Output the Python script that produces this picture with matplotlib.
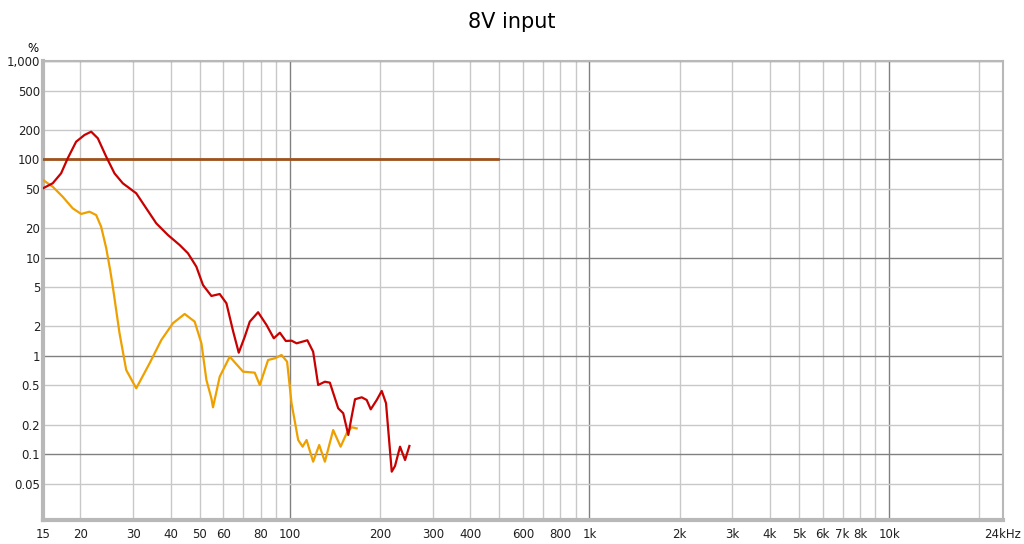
import numpy as np
import matplotlib
matplotlib.use('Agg')
import matplotlib.pyplot as plt
from matplotlib.ticker import FixedLocator, NullFormatter

# distortion of the red trace (Hz, %)
red_f = [15.0, 16.16, 17.24, 18.14, 19.35, 20.63, 21.72, 22.86, 24.38, 25.98,
         27.70, 30.71, 33.17, 35.83, 39.17, 42.87, 45.70, 48.75, 51.29, 54.72,
         58.33, 61.42, 64.63, 67.52, 70.72, 73.49, 78.34, 83.6, 88.4, 92.6,
         96.96, 101.3, 105.3, 114.4, 119.6, 124.3, 130.9, 136.0, 145.0, 150.7,
         156.7, 160.8, 165.0, 173.7, 180.5, 186.2, 195.0, 202.6, 209.4, 218.8,
         224.4, 233.2, 242.4, 250.6]
red_v = [50.7, 57.0, 72.0, 102.4, 151, 176.7, 191, 163.6, 106.3, 72.0,
         57.0, 45.1, 31.7, 22.3, 16.98, 13.43, 11.06, 8.08, 5.26, 4.07,
         4.26, 3.43, 1.79, 1.078, 1.568, 2.23, 2.78, 2.06, 1.51, 1.72,
         1.418, 1.428, 1.343, 1.441, 1.103, 0.506, 0.546, 0.534, 0.293, 0.261,
         0.157, 0.241, 0.362, 0.379, 0.356, 0.286, 0.356, 0.440, 0.330, 0.0664,
         0.0759, 0.1192, 0.0873, 0.1212]

# distortion of the orange trace (Hz, %)
orange_f = [15.0, 16.16, 17.45, 18.85, 20.11, 21.44, 22.57, 23.45, 24.38, 25.13,
            25.65, 27.01, 28.43, 30.71, 34.03, 37.24, 40.72, 44.56, 48.12, 50.68,
            52.66, 54.72, 55.4, 58.33, 63.0, 69.8, 76.35, 79.37, 84.6, 89.1,
            93.8, 97.9, 101.3, 106.6, 110.3, 113.7, 119.6, 125.3, 130.9, 139.5,
            147.7, 154.7, 160.8, 167.1]
orange_v = [61.6, 52.6, 41.6, 31.7, 27.8, 29.3, 27.1, 20.6, 12.5, 7.48,
            5.06, 1.70, 0.719, 0.468, 0.841, 1.451, 2.15, 2.67, 2.23, 1.343,
            0.569, 0.370, 0.30, 0.614, 0.981, 0.691, 0.675, 0.506, 0.908, 0.945,
            1.021, 0.873, 0.330, 0.1395, 0.1192, 0.1395, 0.0839, 0.124, 0.0839, 0.176,
            0.1192, 0.163, 0.188, 0.183]

# reference level
ref_f = [15, 497]
ref_v = [100, 100]

x_ticks = [15, 20, 30, 40, 50, 60, 80, 100, 200, 300, 400, 600, 800, 1000,
           2000, 3000, 4000, 5000, 6000, 7000, 8000, 10000, 24000]
x_labels = ['15', '20', '30', '40', '50', '60', '80', '100', '200', '300', '400',
            '600', '800', '1k', '2k', '3k', '4k', '5k', '6k', '7k', '8k', '10k', '24kHz']
y_ticks = [0.05, 0.1, 0.2, 0.5, 1, 2, 5, 10, 20, 50, 100, 200, 500, 1000]
y_labels = ['0.05', '0.1', '0.2', '0.5', '1', '2', '5', '10', '20', '50', '100',
            '200', '500', '1,000']

fig = plt.figure(figsize=(10.24, 5.44), dpi=100)
ax = fig.add_axes([43 / 1024, 1 - 520 / 544, 960 / 1024, 459 / 544])
ax.set_xscale('log')
ax.set_yscale('log')
ax.set_xlim(15, 24000)
ax.set_ylim(0.0214, 1000)

# grid: light lines at every 1..9 multiple, dark lines at decades
x_grid = [m * d for d in (10, 100, 1000, 10000) for m in range(1, 10) if 15 < m * d < 24000]
for xv in x_grid:
    dec = np.isclose(np.log10(xv) % 1, 0)
    ax.axvline(xv, color='#808080' if dec else '#c8c8c8', lw=1, zorder=0)
for yv in y_ticks:
    dec = np.isclose(np.log10(yv) % 1, 0)
    ax.axhline(yv, color='#808080' if dec else '#c8c8c8', lw=1, zorder=0)

ax.plot(ref_f, ref_v, color='#a0521e', lw=2, zorder=3)
ax.plot(orange_f, orange_v, color='#eea000', lw=1.6, zorder=4,
        solid_joinstyle='round')
ax.plot(red_f, red_v, color='#c80000', lw=1.6, zorder=5,
        solid_joinstyle='round')

ax.xaxis.set_major_locator(FixedLocator(x_ticks))
ax.set_xticklabels(x_labels)
ax.xaxis.set_minor_formatter(NullFormatter())
ax.yaxis.set_major_locator(FixedLocator(y_ticks))
ax.set_yticklabels(y_labels)
ax.yaxis.set_minor_formatter(NullFormatter())
ax.tick_params(which='both', length=0, labelsize=8.5, colors='#202020')
ax.tick_params(axis='x', pad=6)
ax.tick_params(axis='y', pad=2)

for s in ax.spines.values():
    s.set_color('#b8b8b8')
    s.set_linewidth(1.5)
ax.spines['left'].set_linewidth(3)
ax.spines['bottom'].set_linewidth(3)

fig.text(0.5, 1 - 22 / 544, '8V input', ha='center', va='center', fontsize=15)
fig.text(33 / 1024, 1 - 49 / 544, '%', ha='center', va='center', fontsize=8.5)

fig.savefig('out.png', dpi=100)
